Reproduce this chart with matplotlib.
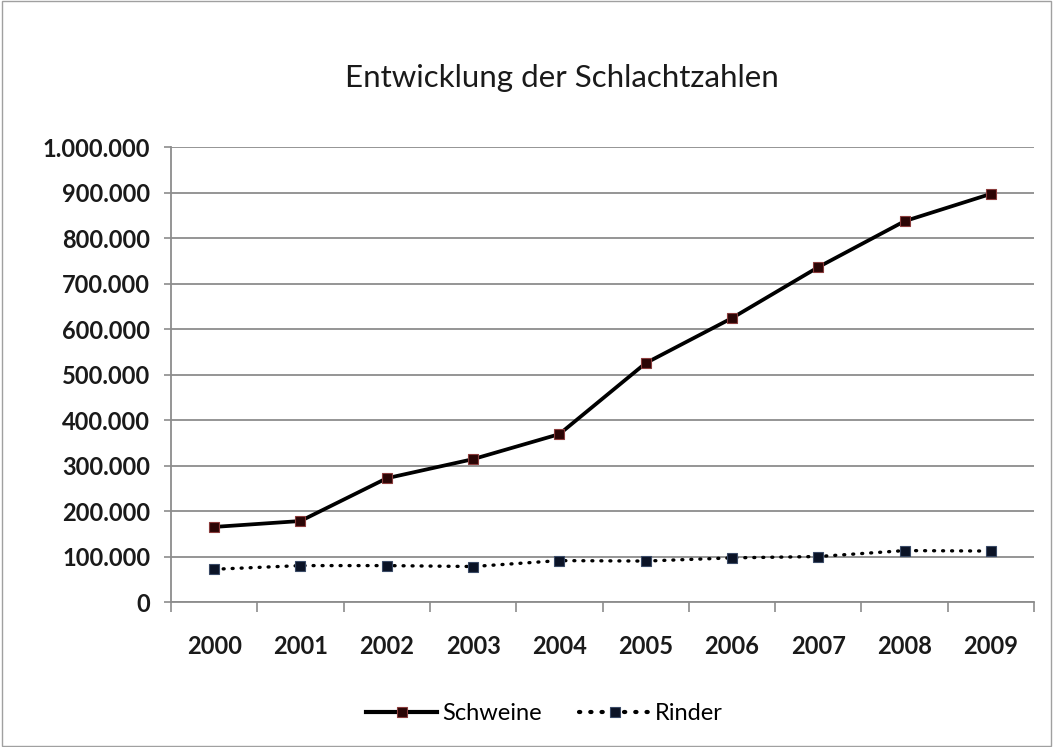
import numpy as np
import matplotlib.pyplot as plt
from matplotlib.ticker import FuncFormatter, FixedLocator
from matplotlib.patches import Rectangle

plt.rcParams['font.family'] = ['Lato', 'DejaVu Sans']

# Schlachtzahlen pro Jahr
jahre = ['2000', '2001', '2002', '2003', '2004', '2005', '2006', '2007', '2008', '2009']
schweine = [165000, 178000, 272000, 314000, 369000, 525000, 624000, 736000, 837000, 897000]
rinder = [72000, 80000, 80000, 78000, 91000, 90000, 97000, 100000, 113000, 112000]

grid_color = '#8c8c8c'

fig = plt.figure(figsize=(10.53, 7.47), dpi=100)
fig.patches.append(Rectangle((0.002, 0.002), 0.996, 0.996, transform=fig.transFigure,
                             fill=False, edgecolor='#a0a0a0', linewidth=1))

ax = fig.add_axes([0.1624, 0.1941, 0.8196, 0.6091])
x = np.arange(len(jahre))

ax.plot(x, schweine, color='black', linewidth=2.7, marker='s', markersize=7.5,
        markerfacecolor='#2b0505', markeredgecolor='#8a3c3c', markeredgewidth=0.8,
        label='Schweine', zorder=3)
ax.plot(x, rinder, color='black', linewidth=2.4, linestyle=(0, (0.3, 2.4)),
        dash_capstyle='round', marker='s', markersize=7.5,
        markerfacecolor='#0b1326', markeredgecolor='#3a4a66', markeredgewidth=0.8,
        label='Rinder', zorder=3)

ax.set_xlim(-0.5, len(jahre) - 0.5)
ax.set_ylim(0, 1000000)
ax.set_yticks(np.arange(0, 1000001, 100000))
ax.yaxis.set_major_formatter(FuncFormatter(lambda v, p: f'{int(v):,}'.replace(',', '.')))
ax.set_xticks(x)
ax.set_xticklabels(jahre)
ax.xaxis.set_minor_locator(FixedLocator(np.arange(-0.5, len(jahre), 1.0)))
ax.tick_params(axis='x', which='major', length=0, pad=24, labelsize=17)
ax.tick_params(axis='x', which='minor', length=7, width=1.2, color=grid_color, direction='out')
ax.tick_params(axis='y', length=5, width=1.2, color=grid_color, direction='out', pad=10, labelsize=17)
for lbl in ax.get_xticklabels() + ax.get_yticklabels():
    lbl.set_fontweight('bold')
    lbl.set_color('#1a1a1a')

ax.yaxis.grid(True, color=grid_color, linewidth=1.3)
ax.set_axisbelow(True)
for side in ['top', 'right']:
    ax.spines[side].set_visible(False)
ax.spines['left'].set_color(grid_color)
ax.spines['bottom'].set_color(grid_color)
ax.spines['left'].set_linewidth(1.3)
ax.spines['bottom'].set_linewidth(1.3)

fig.text(0.534, 0.895, 'Entwicklung der Schlachtzahlen', ha='center', va='center',
         fontsize=22.5, color='#1a1a1a')

leg = fig.legend(loc='center', bbox_to_anchor=(0.517, 0.045), ncol=2, frameon=False,
                 fontsize=17, handlelength=3.0, columnspacing=1.6, handletextpad=0.2)
for line in leg.get_lines():
    line.set_linewidth(3)

fig.savefig('out.png', dpi=100)
